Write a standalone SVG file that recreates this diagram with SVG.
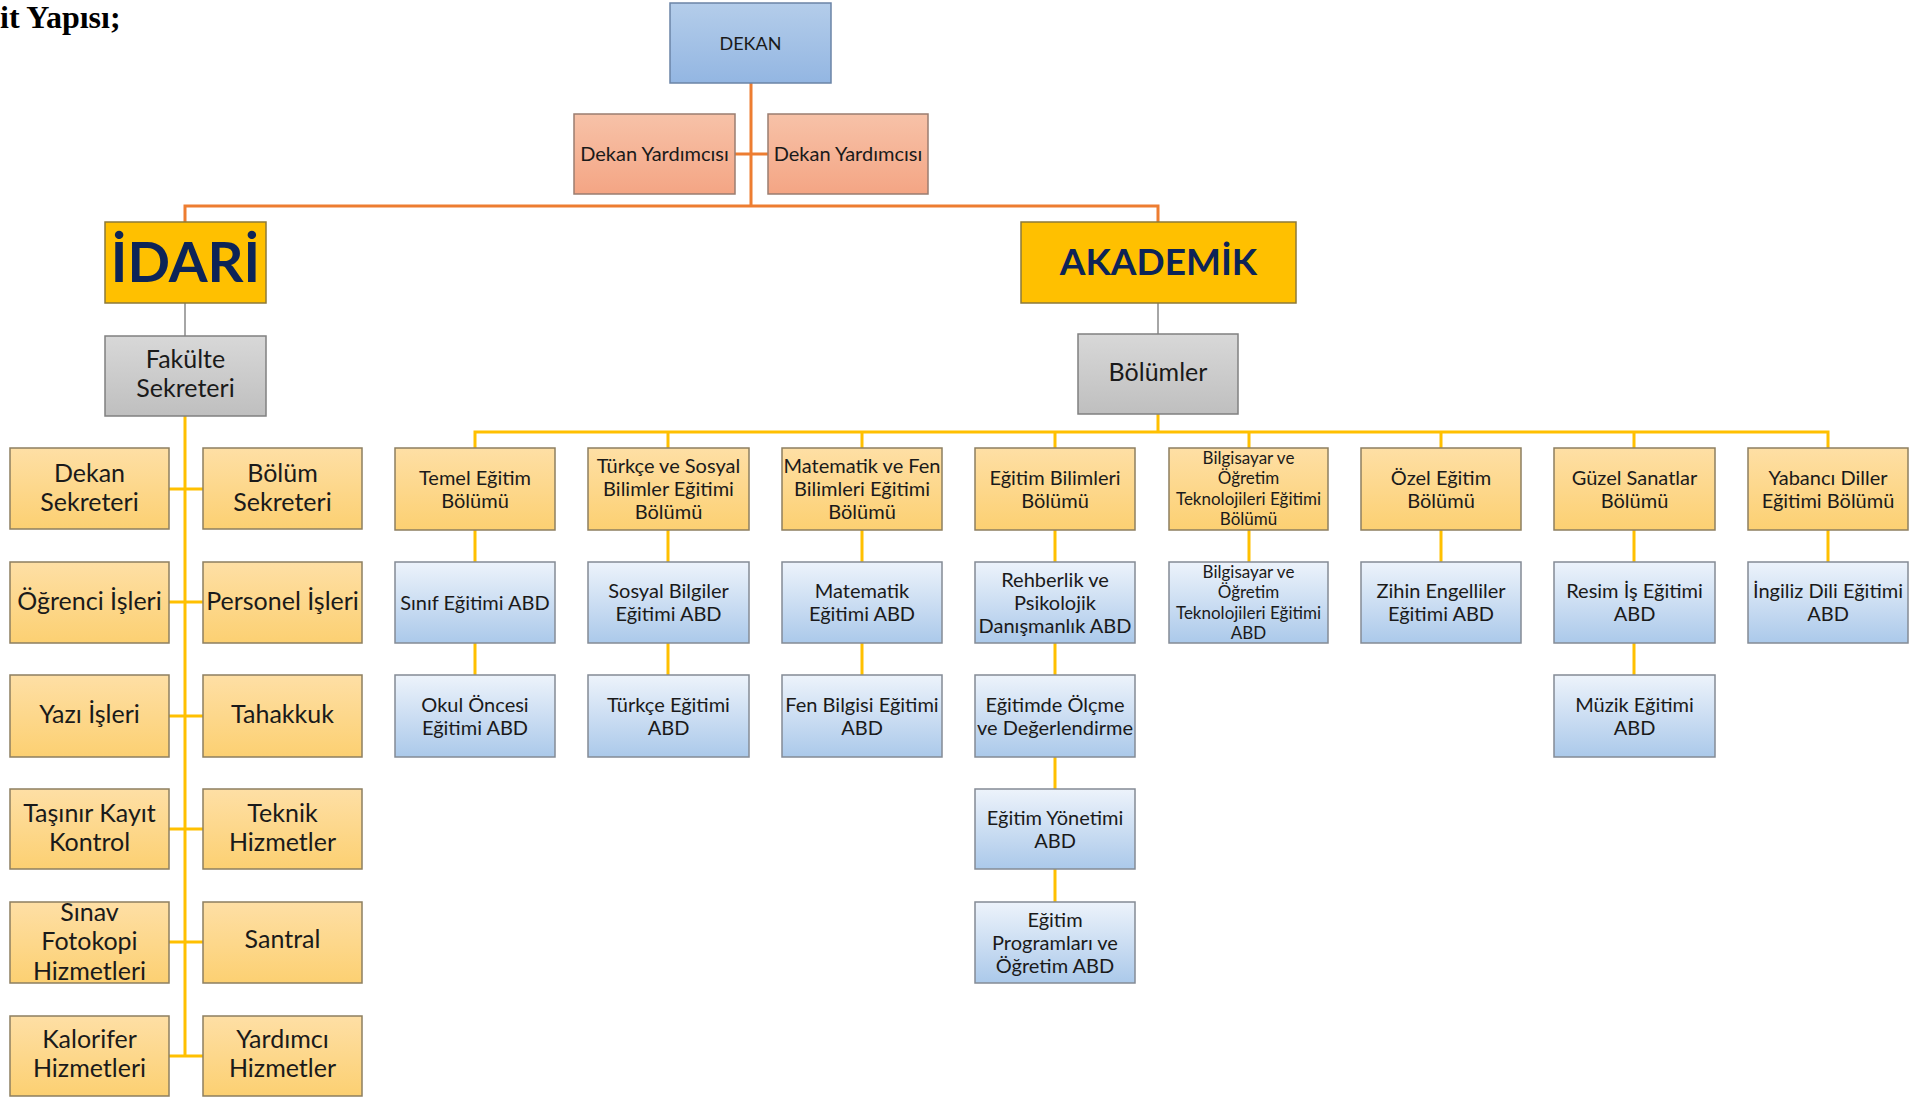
<svg xmlns="http://www.w3.org/2000/svg" width="1923" height="1097" viewBox="0 0 1923 1097">
<defs>
<linearGradient id="gBlue" x1="0" y1="0" x2="0" y2="1"><stop offset="0" stop-color="#b4cdea"/><stop offset="1" stop-color="#93b6e2"/></linearGradient>
<linearGradient id="gSalmon" x1="0" y1="0" x2="0" y2="1"><stop offset="0" stop-color="#f7c2a8"/><stop offset="1" stop-color="#f4a584"/></linearGradient>
<linearGradient id="gGrey" x1="0" y1="0" x2="0" y2="1"><stop offset="0" stop-color="#d8d8d8"/><stop offset="1" stop-color="#bfbfbf"/></linearGradient>
<linearGradient id="gYel" x1="0" y1="0" x2="0" y2="1"><stop offset="0" stop-color="#fedfa5"/><stop offset="1" stop-color="#fcd072"/></linearGradient>
<linearGradient id="gAbd" x1="0" y1="0" x2="0" y2="1"><stop offset="0" stop-color="#edf3fb"/><stop offset="1" stop-color="#abc9ea"/></linearGradient>
</defs>
<style>
text{font-family:Lato,"Open Sans","Noto Sans",sans-serif;fill:#1a1a1a;text-anchor:middle}
.b{stroke-width:1.5}
.blue{fill:url(#gBlue);stroke:#6b84a6}
.sal{fill:url(#gSalmon);stroke:#9a7d70}
.grey{fill:url(#gGrey);stroke:#808080}
.gold{fill:#ffc000;stroke:#8c7a3a}
.yel{fill:url(#gYel);stroke:#8d7f60}
.abd{fill:url(#gAbd);stroke:#848b95}
.big{font-weight:bold;fill:#0d2457}
.t24{font-size:25px}
.t20{font-size:20px}
.t16{font-size:17px}
.co{stroke:#ed7d31;stroke-width:3;fill:none}
.cg{stroke:#a6a6a6;stroke-width:2;fill:none}
.cy{stroke:#ffc000;stroke-width:3;fill:none}
.title{font-family:"Liberation Serif","Times New Roman",serif;font-weight:bold;font-size:32px;fill:#000;text-anchor:start}
</style>
<rect width="1923" height="1097" fill="#ffffff"/>
<text class="title" x="0" y="28">it Yapısı;</text>

<g id="connectors">
<path class="co" d="M751 83V206M185 222V206H1158V222M735 154H768"/>
<path class="cg" d="M185 303V336M1158 303V334"/>
<path class="cy" d="M185 416V1056M169 489H203M169 602H203M169 716H203M169 829H203M169 942H203M169 1056H203"/>
<path class="cy" d="M1158 414V432M475 448V432H1828V448M668 432V448M862 432V448M1055 432V448M1249 432V448M1441 432V448M1634 432V448"/>
<path class="cy" d="M475 530V562M475 643V675M668 530V562M668 643V675M862 530V562M862 643V675M1055 530V562M1055 643V675M1055 757V789M1055 869V902M1249 530V562M1441 530V562M1634 530V562M1634 643V675M1828 530V562"/>
</g>

<g id="dekan"><rect class="b blue" x="670" y="3" width="161" height="80"/><text x="750.5" y="49.5" style="font-size:18px">DEKAN</text></g>
<g id="dy1"><rect class="b sal" x="574" y="114" width="161" height="80"/><text x="654.5" y="161" style="font-size:20px">Dekan Yardımcısı</text></g>
<g id="dy2"><rect class="b sal" x="768" y="114" width="160" height="80"/><text x="848" y="161" style="font-size:20px">Dekan Yardımcısı</text></g>
<g id="idari"><rect class="b gold" x="105" y="222" width="161" height="81"/><text class="big" x="185.5" y="282" style="font-size:56px">İDARİ</text></g>
<g id="akademik"><rect class="b gold" x="1021" y="222" width="275" height="81"/><text class="big" x="1158.5" y="275" style="font-size:37px">AKADEMİK</text></g>
<g id="fakulte"><rect class="b grey" x="105" y="336" width="161" height="80"/><text class="t24" x="185.5"><tspan x="185.5" y="368">Fakülte</tspan><tspan x="185.5" y="397">Sekreteri</tspan></text></g>
<g id="bolumler"><rect class="b grey" x="1078" y="334" width="160" height="80"/><text class="t24" x="1158" y="381">Bölümler</text></g>

<g id="dekan-sekreteri"><rect class="b yel" x="10" y="448" width="159" height="81"/><text class="t24"><tspan x="89.5" y="482">Dekan</tspan><tspan x="89.5" y="511">Sekreteri</tspan></text></g>
<g id="bolum-sekreteri"><rect class="b yel" x="203" y="448" width="159" height="81"/><text class="t24"><tspan x="282.5" y="482">Bölüm</tspan><tspan x="282.5" y="511">Sekreteri</tspan></text></g>
<g id="ogrenci-isleri"><rect class="b yel" x="10" y="562" width="159" height="81"/><text class="t24" x="89.5" y="610">Öğrenci İşleri</text></g>
<g id="personel-isleri"><rect class="b yel" x="203" y="562" width="159" height="81"/><text class="t24" x="282.5" y="610">Personel İşleri</text></g>
<g id="yazi-isleri"><rect class="b yel" x="10" y="675" width="159" height="82"/><text class="t24" x="89.5" y="723">Yazı İşleri</text></g>
<g id="tahakkuk"><rect class="b yel" x="203" y="675" width="159" height="82"/><text class="t24" x="282.5" y="723">Tahakkuk</text></g>
<g id="tasinir"><rect class="b yel" x="10" y="789" width="159" height="80"/><text class="t24"><tspan x="89.5" y="822">Taşınır Kayıt</tspan><tspan x="89.5" y="851">Kontrol</tspan></text></g>
<g id="teknik"><rect class="b yel" x="203" y="789" width="159" height="80"/><text class="t24"><tspan x="282.5" y="822">Teknik</tspan><tspan x="282.5" y="851">Hizmetler</tspan></text></g>
<g id="sinav"><rect class="b yel" x="10" y="902" width="159" height="81"/><text class="t24"><tspan x="89.5" y="921">Sınav</tspan><tspan x="89.5" y="950">Fotokopi</tspan><tspan x="89.5" y="980">Hizmetleri</tspan></text></g>
<g id="santral"><rect class="b yel" x="203" y="902" width="159" height="81"/><text class="t24" x="282.5" y="948">Santral</text></g>
<g id="kalorifer"><rect class="b yel" x="10" y="1016" width="159" height="80"/><text class="t24"><tspan x="89.5" y="1048">Kalorifer</tspan><tspan x="89.5" y="1077">Hizmetleri</tspan></text></g>
<g id="yardimci"><rect class="b yel" x="203" y="1016" width="159" height="80"/><text class="t24"><tspan x="282.5" y="1048">Yardımcı</tspan><tspan x="282.5" y="1077">Hizmetler</tspan></text></g>

<g id="temel"><rect class="b yel" x="395" y="448" width="160" height="82"/><text class="t20"><tspan x="475" y="485">Temel Eğitim</tspan><tspan x="475" y="508">Bölümü</tspan></text></g>
<g id="turkce-sosyal"><rect class="b yel" x="588" y="448" width="161" height="82"/><text class="t20"><tspan x="668.5" y="473">Türkçe ve Sosyal</tspan><tspan x="668.5" y="496">Bilimler Eğitimi</tspan><tspan x="668.5" y="519">Bölümü</tspan></text></g>
<g id="matematik-fen"><rect class="b yel" x="782" y="448" width="160" height="82"/><text class="t20"><tspan x="862" y="473">Matematik ve Fen</tspan><tspan x="862" y="496">Bilimleri Eğitimi</tspan><tspan x="862" y="519">Bölümü</tspan></text></g>
<g id="egitim-bilimleri"><rect class="b yel" x="975" y="448" width="160" height="82"/><text class="t20"><tspan x="1055" y="485">Eğitim Bilimleri</tspan><tspan x="1055" y="508">Bölümü</tspan></text></g>
<g id="bilgisayar"><rect class="b yel" x="1169" y="448" width="159" height="82"/><text class="t16"><tspan x="1248.5" y="463.5">Bilgisayar ve</tspan><tspan x="1248.5" y="484">Öğretim</tspan><tspan x="1248.5" y="504.5">Teknolojileri Eğitimi</tspan><tspan x="1248.5" y="525">Bölümü</tspan></text></g>
<g id="ozel"><rect class="b yel" x="1361" y="448" width="160" height="82"/><text class="t20"><tspan x="1441" y="485">Özel Eğitim</tspan><tspan x="1441" y="508">Bölümü</tspan></text></g>
<g id="guzel"><rect class="b yel" x="1554" y="448" width="161" height="82"/><text class="t20"><tspan x="1634.5" y="485">Güzel Sanatlar</tspan><tspan x="1634.5" y="508">Bölümü</tspan></text></g>
<g id="yabanci"><rect class="b yel" x="1748" y="448" width="160" height="82"/><text class="t20"><tspan x="1828" y="485">Yabancı Diller</tspan><tspan x="1828" y="508">Eğitimi Bölümü</tspan></text></g>

<g id="sinif"><rect class="b abd" x="395" y="562" width="160" height="81"/><text class="t20" x="475" y="609.5">Sınıf Eğitimi ABD</text></g>
<g id="okul-oncesi"><rect class="b abd" x="395" y="675" width="160" height="82"/><text class="t20"><tspan x="475" y="711.5">Okul Öncesi</tspan><tspan x="475" y="734.5">Eğitimi ABD</tspan></text></g>
<g id="sosyal-bilgiler"><rect class="b abd" x="588" y="562" width="161" height="81"/><text class="t20"><tspan x="668.5" y="598">Sosyal Bilgiler</tspan><tspan x="668.5" y="621">Eğitimi ABD</tspan></text></g>
<g id="turkce"><rect class="b abd" x="588" y="675" width="161" height="82"/><text class="t20"><tspan x="668.5" y="711.5">Türkçe Eğitimi</tspan><tspan x="668.5" y="734.5">ABD</tspan></text></g>
<g id="matematik"><rect class="b abd" x="782" y="562" width="160" height="81"/><text class="t20"><tspan x="862" y="598">Matematik</tspan><tspan x="862" y="621">Eğitimi ABD</tspan></text></g>
<g id="fen-bilgisi"><rect class="b abd" x="782" y="675" width="160" height="82"/><text class="t20"><tspan x="862" y="711.5">Fen Bilgisi Eğitimi</tspan><tspan x="862" y="734.5">ABD</tspan></text></g>
<g id="rehberlik"><rect class="b abd" x="975" y="562" width="160" height="81"/><text class="t20"><tspan x="1055" y="586.5">Rehberlik ve</tspan><tspan x="1055" y="609.5">Psikolojik</tspan><tspan x="1055" y="632.5">Danışmanlık ABD</tspan></text></g>
<g id="olcme"><rect class="b abd" x="975" y="675" width="160" height="82"/><text class="t20"><tspan x="1055" y="711.5">Eğitimde Ölçme</tspan><tspan x="1055" y="734.5">ve Değerlendirme</tspan></text></g>
<g id="yonetim"><rect class="b abd" x="975" y="789" width="160" height="80"/><text class="t20"><tspan x="1055" y="824.5">Eğitim Yönetimi</tspan><tspan x="1055" y="847.5">ABD</tspan></text></g>
<g id="programlar"><rect class="b abd" x="975" y="902" width="160" height="81"/><text class="t20"><tspan x="1055" y="926.5">Eğitim</tspan><tspan x="1055" y="949.5">Programları ve</tspan><tspan x="1055" y="972.5">Öğretim ABD</tspan></text></g>
<g id="bilgisayar-abd"><rect class="b abd" x="1169" y="562" width="159" height="81"/><text class="t16"><tspan x="1248.5" y="577.5">Bilgisayar ve</tspan><tspan x="1248.5" y="598">Öğretim</tspan><tspan x="1248.5" y="618.5">Teknolojileri Eğitimi</tspan><tspan x="1248.5" y="639">ABD</tspan></text></g>
<g id="zihin"><rect class="b abd" x="1361" y="562" width="160" height="81"/><text class="t20"><tspan x="1441" y="598">Zihin Engelliler</tspan><tspan x="1441" y="621">Eğitimi ABD</tspan></text></g>
<g id="resim"><rect class="b abd" x="1554" y="562" width="161" height="81"/><text class="t20"><tspan x="1634.5" y="598">Resim İş Eğitimi</tspan><tspan x="1634.5" y="621">ABD</tspan></text></g>
<g id="muzik"><rect class="b abd" x="1554" y="675" width="161" height="82"/><text class="t20"><tspan x="1634.5" y="711.5">Müzik Eğitimi</tspan><tspan x="1634.5" y="734.5">ABD</tspan></text></g>
<g id="ingiliz"><rect class="b abd" x="1748" y="562" width="160" height="81"/><text class="t20"><tspan x="1828" y="598">İngiliz Dili Eğitimi</tspan><tspan x="1828" y="621">ABD</tspan></text></g>
</svg>
